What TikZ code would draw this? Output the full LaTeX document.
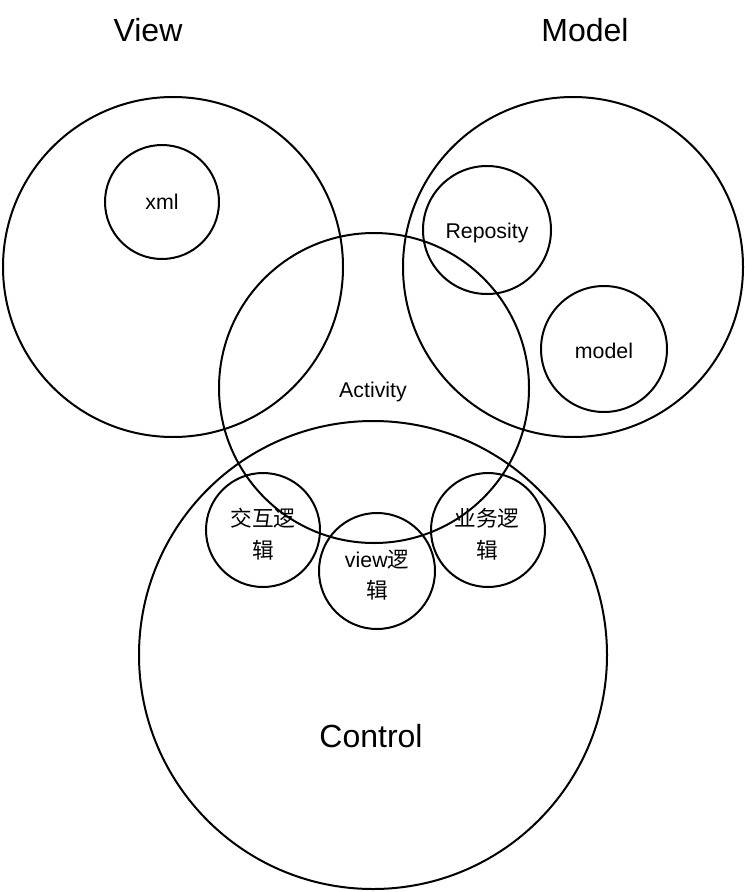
\documentclass[tikz,border=0pt]{standalone}
\usepackage{fontspec}
\setmainfont{Liberation Sans}
\newfontfamily\cjk{Noto Sans CJK SC}
\begin{document}
\begin{tikzpicture}[x=0.75pt,y=-0.75pt,
  ring/.style={draw=black,line width=1.5pt,circle,inner sep=0pt,outer sep=0pt,minimum size=#1*1.5pt},
  bigtext/.style={font=\fontsize{24}{28}\selectfont,anchor=base,inner sep=0pt},
  smalltext/.style={font=\fontsize{16}{19}\selectfont,anchor=base,inner sep=0pt},
  cjktext/.style={font=\fontsize{16.25}{19}\selectfont\cjk,anchor=base,inner sep=0pt}
]
\useasboundingbox (0,0) rectangle (744,892);
% big circles
\node[ring=170] (viewc) at (173,267) {};
\node[ring=170] (modelc) at (573,267) {};
\node[ring=155] (actc) at (374,388) {};
\node[ring=234] (ctrlc) at (373,655) {};
% small circles
\node[ring=57] (xmlc) at (162,202) {};
\node[ring=64] (repc) at (487,230) {};
\node[ring=63] (modc) at (604,349) {};
\node[ring=57] (jhc) at (263,530) {};
\node[ring=58] (vlc) at (377,571) {};
\node[ring=57] (ywc) at (488,530) {};
% titles
\node[bigtext] (tview) at (148,42) {View};
\node[bigtext] (tmodel) at (585,42) {Model};
\node[bigtext] (tctrl) at (371,747) {Control};
% labels
\node[smalltext] (txml) at (162,209) {xml};
\node[smalltext] (trep) at (487,238) {Reposity};
\node[smalltext] (tmod) at (604,358) {model};
\node[smalltext] (tact) at (373,397) {Activity};
\node[cjktext] (tjh1) at (263,526) {交互逻};
\node[cjktext] (tjh2) at (263,558) {辑};
\node[cjktext] (tyw1) at (487,526) {业务逻};
\node[cjktext] (tyw2) at (487,558) {辑};
\node[smalltext] (tvl1) at (377,567) {view{\cjk 逻}};
\node[cjktext] (tvl2) at (377,598) {辑};
\end{tikzpicture}
\end{document}
